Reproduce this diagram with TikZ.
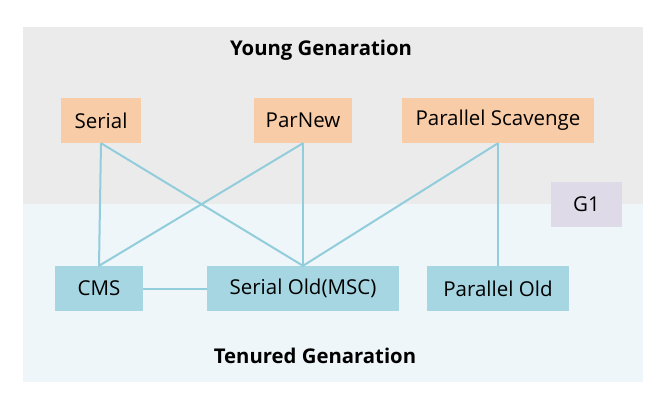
\documentclass[tikz,border=0pt]{standalone}
\usepackage{fontspec}
\setmainfont{Open Sans}
\usetikzlibrary{positioning}

\definecolor{younggray}{RGB}{235,235,235}
\definecolor{tenuredblue}{RGB}{238,246,249}
\definecolor{youngfill}{RGB}{248,204,167}
\definecolor{oldfill}{RGB}{165,214,226}
\definecolor{gonefill}{RGB}{223,218,232}
\definecolor{linkcol}{RGB}{146,205,220}

\begin{document}
\begin{tikzpicture}[
  x=1pt, y=-1pt,
  font=\fontsize{20.5}{24}\selectfont,
  gc/.style={rectangle, inner sep=0pt, minimum height=45pt},
  younggc/.style={gc, fill=youngfill},
  oldgc/.style={gc, fill=oldfill},
  g1gc/.style={gc, fill=gonefill},
  link/.style={draw=linkcol, line width=2pt},
  gentitle/.style={font=\fontsize{20.3}{24}\selectfont\bfseries},
]
\useasboundingbox (0,0) rectangle (664,404);

% ---- generation zones ----
\fill[younggray] (23,27) rectangle (643,204);
\fill[tenuredblue] (23,204) rectangle (643,382);
\node[gentitle] (youngtitle) at (321,50) {Young Genaration};
\node[gentitle] (tenuredtitle) at (315,356) {Tenured Genaration};

% ---- young collectors ----
\node[younggc, minimum width=80pt] (serial) at (101,120.5) {Serial};
\node[younggc, minimum width=98pt] (parnew) at (303,120.5) {ParNew};
\node[younggc, minimum width=192pt] (pscav) at (498,120.5) {Parallel Scavenge};

% ---- G1 ----
\node[g1gc, minimum width=71pt] (g1) at (586.5,204.5) {G1};

% ---- tenured collectors ----
\node[oldgc, minimum width=88pt] (cms) at (99,288.5) {CMS};
\node[oldgc, minimum width=192pt] (serialold) at (303,288.5) {Serial Old(MSC)};
\node[oldgc, minimum width=142pt] (parold) at (498,288.5) {Parallel Old};

% ---- pairings ----
\draw[link] (serial.south) -- (cms.north);
\draw[link] (serial.south) -- (serialold.north);
\draw[link] (parnew.south) -- (cms.north);
\draw[link] (parnew.south) -- (serialold.north);
\draw[link] (pscav.south) -- (serialold.north);
\draw[link] (pscav.south) -- (parold.north);
\draw[link] (cms.east) -- (serialold.west);

\end{tikzpicture}
\end{document}
